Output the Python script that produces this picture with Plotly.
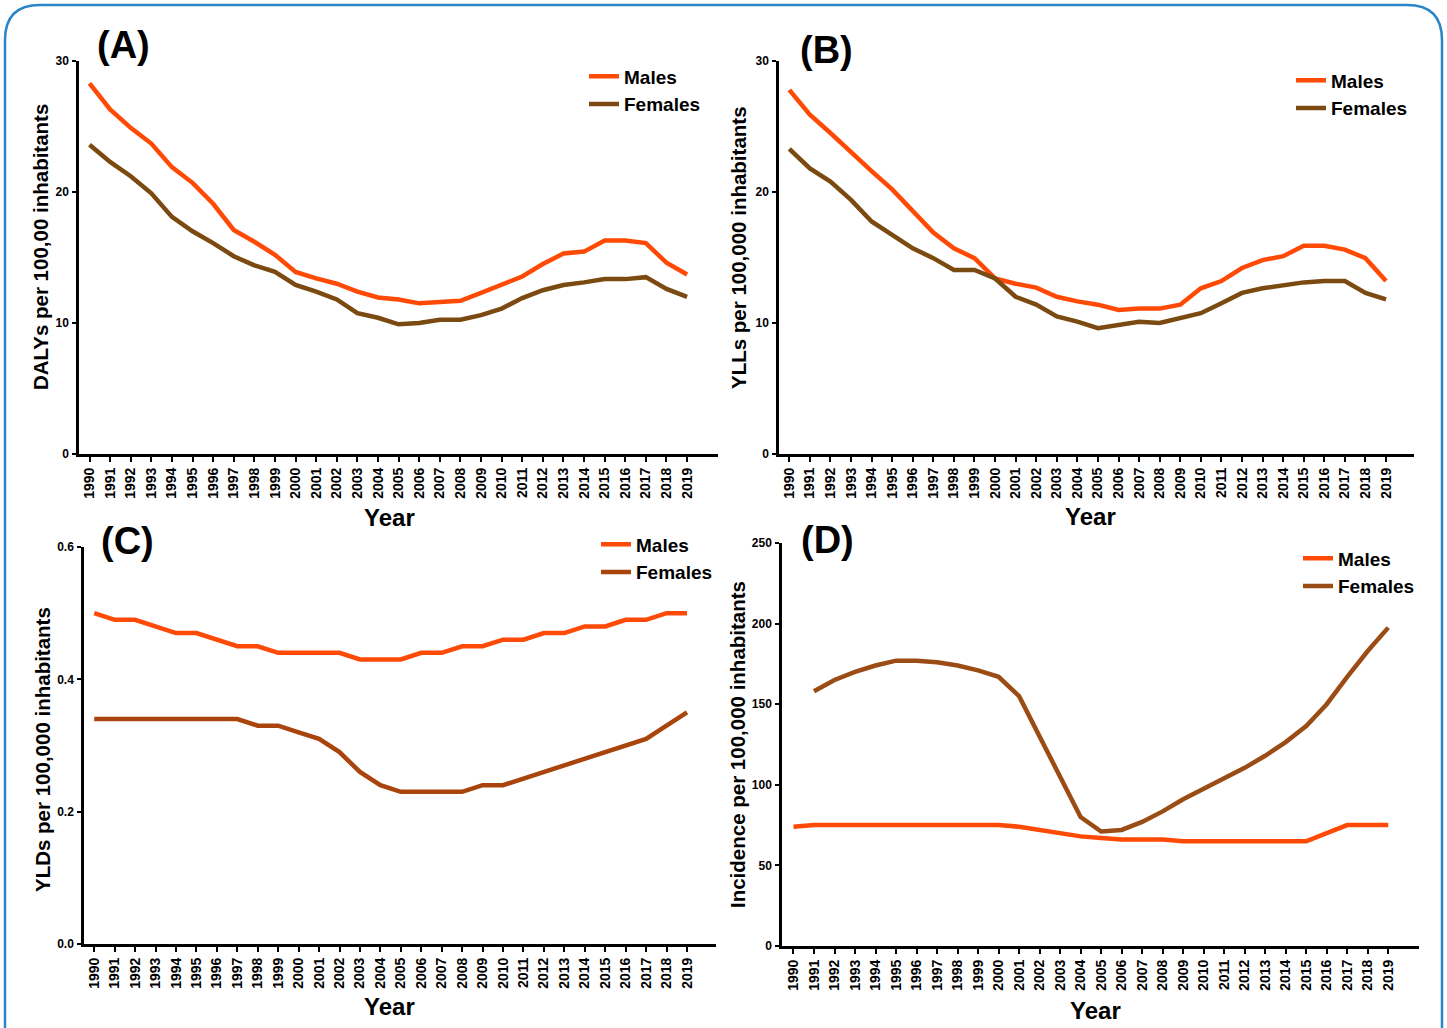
import plotly.graph_objects as go

years = list(range(1990, 2020))

dalys_males = [28.3, 26.3, 24.9, 23.7, 21.9, 20.7, 19.1, 17.1, 16.2, 15.2,
               13.9, 13.4, 13.0, 12.4, 11.95, 11.8, 11.5, 11.6, 11.7, 12.3,
               12.9, 13.55, 14.5, 15.3, 15.45, 16.3, 16.3, 16.1, 14.6, 13.7]
dalys_females = [23.6, 22.3, 21.2, 19.9, 18.1, 17.0, 16.1, 15.1, 14.4, 13.9,
                 12.9, 12.4, 11.8, 10.75, 10.4, 9.9, 10.0, 10.25, 10.25, 10.6,
                 11.1, 11.9, 12.5, 12.9, 13.1, 13.35, 13.35, 13.5, 12.6, 12.0]

ylls_males = [27.8, 25.9, 24.5, 23.0, 21.6, 20.2, 18.6, 16.9, 15.7, 14.95,
              13.4, 13.0, 12.7, 12.0, 11.65, 11.4, 11.0, 11.1, 11.1, 11.4,
              12.65, 13.2, 14.2, 14.8, 15.1, 15.9, 15.9, 15.6, 14.95, 13.2]
ylls_females = [23.3, 21.8, 20.8, 19.4, 17.75, 16.7, 15.7, 14.95, 14.05, 14.05,
                13.4, 12.0, 11.4, 10.5, 10.1, 9.6, 9.85, 10.1, 10.0, 10.4,
                10.75, 11.5, 12.3, 12.65, 12.9, 13.1, 13.2, 13.2, 12.3, 11.8]

ylds_males = [0.50, 0.49, 0.49, 0.48, 0.47, 0.47, 0.46, 0.45, 0.45, 0.44,
              0.44, 0.44, 0.44, 0.43, 0.43, 0.43, 0.44, 0.44, 0.45, 0.45,
              0.46, 0.46, 0.47, 0.47, 0.48, 0.48, 0.49, 0.49, 0.50, 0.50]
ylds_females = [0.34, 0.34, 0.34, 0.34, 0.34, 0.34, 0.34, 0.34, 0.33, 0.33,
                0.32, 0.31, 0.29, 0.26, 0.24, 0.23, 0.23, 0.23, 0.23, 0.24,
                0.24, 0.25, 0.26, 0.27, 0.28, 0.29, 0.30, 0.31, 0.33, 0.35]

inc_males = [74, 75, 75, 75, 75, 75, 75, 75, 75, 75,
             75, 74, 72, 70, 68, 67, 66, 66, 66, 65,
             65, 65, 65, 65, 65, 65, 70, 75, 75, 75]
inc_years_f = list(range(1991, 2020))
inc_females = [158, 165, 170, 174, 177, 177, 176, 174, 171, 167,
               155, 130, 104, 80, 71, 72, 77, 83.5, 91, 97.5,
               103.7, 110.5, 118, 126.5, 136.5, 150, 167, 183, 197.5]

panel_labels = ["(A)", "(B)", "(C)", "(D)"]
y_titles = ["DALYs per 100,00 inhabitants", "YLLs per 100,000 inhabitants",
            "YLDs per 100,000 inhabitants", "Incidence per 100,000 inhabitants"]
y_ticks = [[0, 10, 20, 30], [0, 10, 20, 30], [0.0, 0.2, 0.4, 0.6], [0, 50, 100, 150, 200, 250]]
y_ticktext = [["0", "10", "20", "30"], ["0", "10", "20", "30"],
              ["0.0", "0.2", "0.4", "0.6"], ["0", "50", "100", "150", "200", "250"]]

MALE = "#ff4a05"
FEM_AB = "#7a4a10"
FEM_C = "#a8440c"
FEM_D = "#9a4c14"

W, H = 1447, 1028

def px_x(p):
    return p / W

def px_y(p):
    return 1 - p / H

panels = [
    dict(l=79, r=718, t=61, b=454, xr=[1989.49, 2020.5], yr=[0, 30]),
    dict(l=779, r=1414, t=61, b=454, xr=[1989.5, 2020.36], yr=[0, 30]),
    dict(l=84, r=716, t=547, b=944, xr=[1989.5, 2020.42], yr=[0, 0.6]),
    dict(l=782, r=1419, t=543, b=946, xr=[1989.44, 2020.5], yr=[0, 250]),
]

series = [
    (years, dalys_males, years, dalys_females, FEM_AB),
    (years, ylls_males, years, ylls_females, FEM_AB),
    (years, ylds_males, years, ylds_females, FEM_C),
    (years, inc_males, inc_years_f, inc_females, FEM_D),
]

fig = go.Figure()
layout = dict(
    width=W, height=H, autosize=False,
    margin=dict(l=0, r=0, t=0, b=0, pad=0, autoexpand=False),
    paper_bgcolor="white", plot_bgcolor="white",
    font=dict(family="Liberation Sans, Arial, sans-serif", color="black"),
    annotations=[], shapes=[],
)

legend_pos = [(584, 57.5), (1291, 61.5), (596, 525.5), (1298, 539.5)]

for i, (p, s) in enumerate(zip(panels, series)):
    k = "" if i == 0 else str(i + 1)
    lg = "legend" if i == 0 else "legend" + str(i + 1)
    xm, ym, xf, yf, fc = s
    fig.add_trace(go.Scatter(x=xm, y=ym, mode="lines", name="Males",
                             line=dict(color=MALE, width=4.5),
                             xaxis="x" + k, yaxis="y" + k, legend=lg))
    fig.add_trace(go.Scatter(x=xf, y=yf, mode="lines", name="Females",
                             line=dict(color=fc, width=4.5),
                             xaxis="x" + k, yaxis="y" + k, legend=lg))
    layout["xaxis" + k] = dict(
        domain=[px_x(p["l"]), px_x(p["r"])], range=p["xr"], anchor="y" + k,
        tickmode="array", tickvals=years, ticktext=[str(y) for y in years],
        tickangle=-90, ticks="outside", ticklen=5, tickwidth=1.5, tickcolor="black",
        showline=True, linecolor="black", linewidth=3, showgrid=False, zeroline=False,
        tickfont=dict(family="Liberation Sans, Arial, sans-serif", size=14,
                      color="black", weight="bold"),
        fixedrange=True, automargin=False,
    )
    layout["yaxis" + k] = dict(
        domain=[px_y(p["b"]), px_y(p["t"])], range=p["yr"], anchor="x" + k,
        tickmode="array", tickvals=y_ticks[i], ticktext=y_ticktext[i],
        ticks="outside", ticklen=4, tickwidth=1.5, tickcolor="black",
        showline=True, linecolor="black", linewidth=2.5, showgrid=False, zeroline=False,
        tickfont=dict(family="Liberation Sans Narrow, Arial Narrow, sans-serif", size=12,
                      color="black", weight="bold"),
        ticklabelstandoff=1,
        fixedrange=True, automargin=False,
    )
    lx, ly = legend_pos[i]
    layout[lg] = dict(
        x=px_x(lx), y=px_y(ly), xanchor="left", yanchor="top",
        bgcolor="rgba(0,0,0,0)", borderwidth=0, itemwidth=30,
        font=dict(family="Liberation Sans, Arial, sans-serif", size=19,
                  color="black", weight="bold"),
        tracegroupgap=0,
    )

label_pos = [(123, 45), (826, 50), (127, 541), (827, 540)]
for t, (x, y) in zip(panel_labels, label_pos):
    layout["annotations"].append(dict(
        text=t, x=px_x(x), y=px_y(y), xref="paper", yref="paper",
        showarrow=False, xanchor="center", yanchor="middle",
        font=dict(family="Liberation Sans, Arial, sans-serif", size=38,
                  color="black", weight="bold")))

ytitle_pos = [(40, 247), (738, 248), (42, 750), (737, 745)]
for t, (x, y) in zip(y_titles, ytitle_pos):
    layout["annotations"].append(dict(
        text=t, x=px_x(x), y=px_y(y), xref="paper", yref="paper",
        showarrow=False, xanchor="center", yanchor="middle", textangle=-90,
        font=dict(family="Liberation Sans, Arial, sans-serif", size=20.5,
                  color="black", weight="bold")))

xtitle_pos = [(390, 517), (1090, 516), (390, 1006), (1095, 1010)]
for (x, y) in xtitle_pos:
    layout["annotations"].append(dict(
        text="Year", x=px_x(x), y=px_y(y), xref="paper", yref="paper",
        showarrow=False, xanchor="center", yanchor="middle",
        font=dict(family="Liberation Sans Narrow, Arial Narrow, sans-serif", size=24,
                  color="black", weight="bold")))

layout["shapes"].append(dict(
    type="path", xref="paper", yref="paper",
    xsizemode="pixel", ysizemode="pixel", xanchor=0, yanchor=1,
    path="M 40,-5 L 1407,-5 Q 1442,-5 1442,-40 L 1442,-1045 "
         "M 5,-1045 L 5,-40 Q 5,-5 40,-5",
    line=dict(color="#2a86c8", width=2.5), layer="below"))

fig.update_layout(**layout)
fig.write_html(
    "out.html",
    config={"displayModeBar": False, "responsive": False},
    post_script=(
        "document.documentElement.style.margin='0';"
        "document.body.style.margin='0';document.body.style.overflow='hidden';"
        "var gd=document.getElementById('{plot_id}');"
        "gd.style.position='fixed';gd.style.top='0px';gd.style.left='0px';"
    ),
)
